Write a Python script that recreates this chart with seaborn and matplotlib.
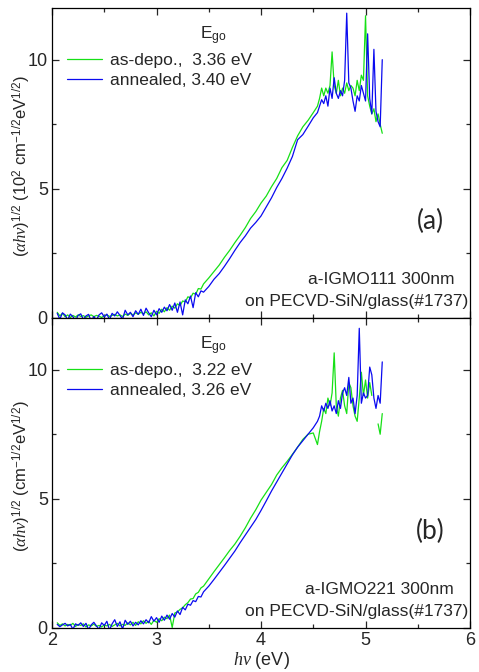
import numpy as np
import pandas as pd
import matplotlib
matplotlib.use("Agg")
import matplotlib.pyplot as plt
from matplotlib.lines import Line2D
from matplotlib.ticker import MultipleLocator
import seaborn as sns

sns.set_style("ticks")
plt.rcParams["font.family"] = ["Liberation Sans", "DejaVu Sans"]
plt.rcParams["mathtext.fontset"] = "custom"
plt.rcParams["mathtext.rm"] = "Liberation Sans"
plt.rcParams["mathtext.sf"] = "Liberation Sans"
plt.rcParams["mathtext.it"] = "Liberation Serif:italic"

# photon energy grid (eV), shared by all four spectra
energy = [
    2.050, 2.075, 2.100, 2.125, 2.150, 2.175, 2.200, 2.225, 2.250, 2.275,
    2.300, 2.325, 2.350, 2.375, 2.400, 2.425, 2.450, 2.475, 2.500, 2.525,
    2.550, 2.575, 2.600, 2.625, 2.650, 2.675, 2.700, 2.725, 2.750, 2.775,
    2.800, 2.825, 2.850, 2.875, 2.900, 2.925, 2.950, 2.975, 3.000, 3.025,
    3.050, 3.075, 3.100, 3.125, 3.150, 3.175, 3.200, 3.225, 3.250, 3.275,
    3.300, 3.325, 3.350, 3.375, 3.400, 3.425, 3.450,
    3.50, 3.55, 3.60, 3.65, 3.70, 3.75, 3.80, 3.85, 3.90, 3.95,
    4.00, 4.05, 4.10, 4.15, 4.20, 4.25, 4.30, 4.35, 4.40, 4.45, 4.50,
    4.54, 4.56, 4.58, 4.60, 4.62, 4.64, 4.66, 4.68, 4.70, 4.72,
    4.74, 4.76, 4.78, 4.80, 4.82, 4.84, 4.86, 4.88, 4.90, 4.92,
    4.94, 4.96, 4.98, 5.00, 5.02, 5.04, 5.06, 5.08, 5.10, 5.12,
    5.14, 5.16,
]

# (a) a-IGMO111
a_dep = [
    0.22, 0.08, 0.18, 0.05, 0.12, 0.02, 0.10, 0.04, 0.12, 0.06,
    0.09, 0.03, 0.08, 0.12, 0.05, 0.10, 0.07, 0.02, 0.09, 0.12,
    0.06, 0.10, 0.14, 0.08, 0.12, 0.06, 0.15, 0.10, 0.18, 0.12,
    0.20, 0.14, 0.22, 0.16, 0.24, 0.12, 0.20, 0.08, 0.26, 0.18,
    0.34, 0.24, 0.40, 0.30, 0.46, 0.38, 0.55, 0.48, 0.66, 0.62,
    0.82, 0.78, 0.96, 0.92, 1.14, 1.12, 1.32,
    1.55, 1.80, 2.05, 2.35, 2.62, 2.92, 3.20, 3.50, 3.85, 4.12,
    4.45, 4.72, 5.08, 5.40, 5.82, 6.10, 6.60, 7.05, 7.40, 7.65, 7.95,
    8.20, 8.50, 8.90, 8.60, 8.90, 8.70, 9.00, 10.30, 9.00, 8.70,
    9.20, 8.60, 8.90, 8.70, 9.10, 8.80, 9.00, 8.90, 8.60, 9.20,
    8.80, 9.40, 9.20, 11.70, 8.60, 8.20, 7.90, 8.10, 7.60, 7.90,
    7.50, 7.15,
]
a_ann = [
    0.18, -0.05, 0.20, 0.12, -0.08, 0.15, 0.05, -0.10, 0.10, 0.16,
    -0.06, 0.08, 0.14, -0.12, 0.06, -0.08, 0.12, 0.20, 0.04, 0.15,
    -0.06, 0.18, 0.08, 0.24, 0.10, -0.05, 0.30, 0.12, 0.22, 0.05,
    0.28, 0.14, 0.34, 0.10, 0.38, 0.20, 0.05, 0.30, 0.12, 0.36,
    0.22, 0.42, 0.28, 0.52, 0.30, 0.58, 0.22, 0.62, 0.12, 0.70,
    0.55, 0.85, 0.40, 0.98, 0.82, 1.05, 1.00,
    1.22, 1.50, 1.72, 2.00, 2.30, 2.62, 2.92, 3.18, 3.48, 3.70,
    3.95, 4.30, 4.65, 5.05, 5.40, 5.80, 6.25, 6.90, 7.10, 7.42, 7.75,
    7.95, 8.20, 8.45, 8.30, 8.60, 8.20, 8.90, 8.50, 9.30, 8.70,
    8.50, 8.80, 8.60, 9.20, 11.80, 9.10, 8.90, 8.40, 8.00, 8.60,
    8.40, 9.00, 8.70, 8.40, 11.00, 8.50, 7.90, 10.40, 8.00, 7.60,
    7.40, 10.00,
]

# (b) a-IGMO221
b_dep = [
    0.20, 0.10, 0.16, 0.08, 0.14, 0.10, 0.18, 0.06, 0.14, 0.10,
    0.16, 0.04, 0.12, 0.08, 0.15, 0.06, 0.10, 0.04, 0.12, 0.08,
    0.14, 0.06, 0.12, 0.18, 0.08, 0.14, 0.10, 0.20, 0.12, 0.22,
    0.10, 0.24, 0.16, 0.28, 0.18, 0.26, 0.14, 0.30, 0.22, 0.36,
    0.28, 0.42, 0.36, 0.50, 0.02, 0.58, 0.62, 0.72, 0.78, 0.90,
    0.98, 1.12, 1.14, 1.32, 1.38, 1.55, 1.62,
    1.90, 2.18, 2.45, 2.72, 3.00, 3.25, 3.55, 3.88, 4.25, 4.58,
    4.95, 5.25, 5.55, 5.92, 6.20, 6.45, 6.72, 7.00, 7.30, 7.50, 7.55,
    7.10, 7.60, 8.00, 8.50, 8.30, 8.90, 8.60, 9.10, 10.65, 8.60,
    8.20, 8.90, 9.20, 8.60, 8.30, 9.50, 9.30, 8.60, 8.20, 8.00,
    8.90, 9.90, 9.00, 9.60, 8.90, 9.50, 9.00, np.nan, np.nan, 7.90,
    7.50, 8.30,
]
b_ann = [
    0.14, 0.05, 0.12, 0.18, 0.08, 0.14, -0.05, 0.16, 0.10, 0.20,
    0.06, 0.18, -0.06, 0.12, 0.22, 0.08, -0.05, 0.20, 0.10, 0.26,
    -0.08, 0.16, 0.32, 0.06, 0.24, -0.04, 0.30, 0.14, 0.26, 0.08,
    0.22, 0.12, 0.28, 0.16, 0.32, 0.20, 0.44, 0.26, 0.40, 0.22,
    0.46, 0.30, 0.50, 0.34, 0.56, 0.42, 0.66, 0.52, 0.80, 0.70,
    0.92, 0.88, 1.06, 1.02, 1.22, 1.20, 1.40,
    1.62, 1.88, 2.15, 2.42, 2.70, 2.98, 3.30, 3.60, 3.90, 4.20,
    4.55, 4.92, 5.30, 5.65, 6.00, 6.35, 6.70, 7.00, 7.25, 7.50, 7.75,
    8.00, 8.20, 8.60, 8.40, 8.70, 8.50, 8.80, 8.40, 8.60, 8.30,
    8.80, 8.50, 9.10, 9.30, 9.00, 9.70, 8.70, 8.90, 8.30, 9.00,
    11.60, 8.70, 9.10, 8.90, 9.00, 10.10, 9.80, 8.90, 8.50, 9.00,
    8.70, 10.30,
]

labels_a = ["as-depo.,  3.36 eV", "annealed, 3.40 eV"]
labels_b = ["as-depo.,  3.22 eV", "annealed, 3.26 eV"]

GREEN = "#16e016"
BLUE = "#0a0af0"


def long_df(dep, ann):
    parts = []
    for name, y in (("dep", dep), ("ann", ann)):
        d = pd.DataFrame({"E": energy, "v": y, "series": name})
        d["seg"] = d["v"].isna().cumsum()  # break the line where data is missing
        parts.append(d.dropna())
    return pd.concat(parts, ignore_index=True)


fig = plt.figure(figsize=(4.79, 6.72), dpi=100)
ax_a = fig.add_axes([0.1086, 0.5268, 0.8727, 0.4613])
ax_b = fig.add_axes([0.1086, 0.0655, 0.8727, 0.4613])

panels = [
    (ax_a, a_dep, a_ann, labels_a, "(a)", "a-IGMO111 300nm",
     r"$(\alpha h\nu)^{1/2}$ (10$^{2}$ cm$^{-1/2}$eV$^{1/2}$)"),
    (ax_b, b_dep, b_ann, labels_b, "(b)", "a-IGMO221 300nm",
     r"$(\alpha h\nu)^{1/2}$ (cm$^{-1/2}$eV$^{1/2}$)"),
]

for ax, dep, ann, labs, tag, sample, ylab in panels:
    df = long_df(dep, ann)
    sns.lineplot(data=df, x="E", y="v", hue="series", units="seg",
                 estimator=None, sort=False, palette={"dep": GREEN, "ann": BLUE},
                 hue_order=["dep", "ann"], lw=0.9, legend=False, ax=ax)

    ax.set_xlim(2, 6)
    ax.set_ylim(0, 12)
    ax.xaxis.set_major_locator(MultipleLocator(1))
    ax.xaxis.set_minor_locator(MultipleLocator(0.5))
    ax.yaxis.set_major_locator(MultipleLocator(5))
    ax.yaxis.set_minor_locator(MultipleLocator(2.5))
    ax.tick_params(which="both", direction="in", top=True, right=True,
                   width=0.9, labelsize=13, pad=3)
    ax.tick_params(which="major", length=5)
    ax.tick_params(which="minor", length=3)
    for s in ax.spines.values():
        s.set_linewidth(0.9)
        s.set_color("black")

    ax.set_ylabel(ylab, fontsize=12)
    ax.yaxis.set_label_coords(-0.045, 0.49)
    ax.set_xlabel("")

    handles = [Line2D([], [], color=GREEN, lw=0.9), Line2D([], [], color=BLUE, lw=0.9)]
    ax.legend(handles, labs, loc="upper left", bbox_to_anchor=(0.036, 0.855),
              frameon=False, fontsize=12.5, handlelength=2.0, handletextpad=0.5,
              labelspacing=0.3, borderpad=0, borderaxespad=0)
    ax.text(0.385, 0.91, r"E$_{\mathrm{go}}$", transform=ax.transAxes,
            ha="center", va="center", fontsize=12.5)

    ax.text(0.905, 0.31, tag, transform=ax.transAxes, ha="center", va="center",
            fontsize=19, family="Lato")
    ax.text(0.962, 0.125, sample, transform=ax.transAxes, ha="right", va="center",
            fontsize=12.5)
    ax.text(0.995, 0.053, "on PECVD-SiN/glass(#1737)", transform=ax.transAxes,
            ha="right", va="center", fontsize=12.5)

ax_a.tick_params(labelbottom=False)
ax_b.set_xlabel(r"$h\nu$ (eV)", fontsize=13)
ax_b.xaxis.set_label_coords(0.502, -0.07)

fig.savefig("out.png", dpi=100)
